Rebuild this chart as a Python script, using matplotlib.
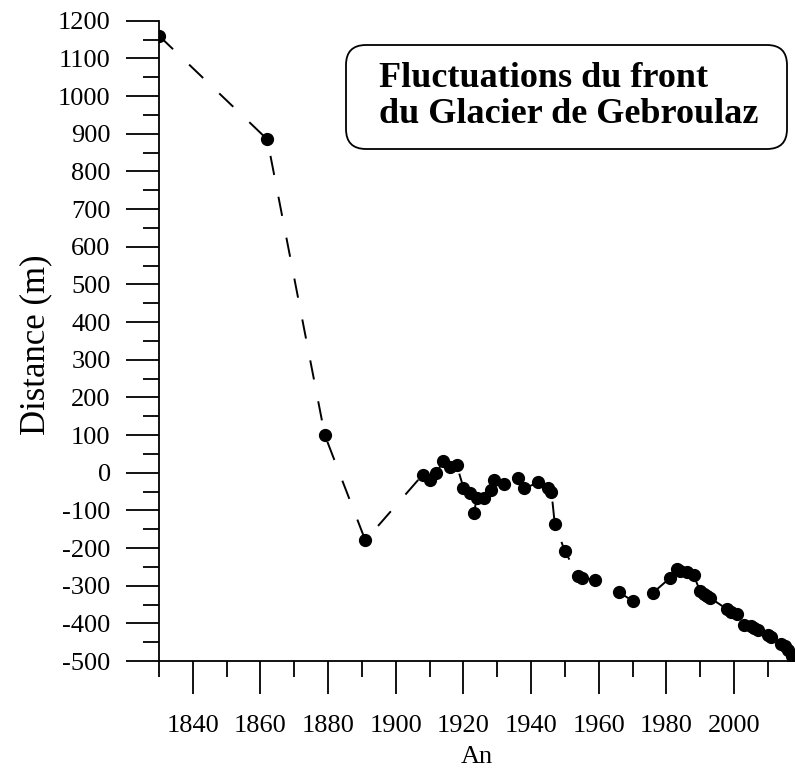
import matplotlib
matplotlib.use("Agg")
import matplotlib.pyplot as plt
from matplotlib.patches import FancyBboxPatch
from matplotlib.transforms import IdentityTransform
from matplotlib.ticker import MultipleLocator

# front position of the glacier (m) per year
years = [1830, 1862, 1879, 1891, 1908, 1910, 1912, 1914, 1916, 1918,
         1920, 1922, 1923, 1924, 1926, 1928, 1929, 1932, 1936, 1938,
         1942, 1945, 1946, 1947, 1950, 1954, 1955, 1959, 1966, 1970,
         1976, 1981, 1983, 1984, 1986, 1988, 1990, 1991, 1992, 1993,
         1998, 1999, 2001, 2003, 2005, 2006, 2007, 2010, 2011, 2014,
         2015, 2016, 2017]
distance = [1160, 885, 100, -180, -5, -20, 0, 30, 15, 20,
            -40, -55, -108, -68, -66, -45, -20, -31, -13, -42,
            -26, -42, -50, -137, -209, -275, -280, -284, -318, -340,
            -319, -280, -255, -261, -265, -272, -315, -322, -328, -333,
            -363, -370, -376, -405, -408, -412, -417, -432, -436, -454,
            -460, -470, -488]

title_lines = "Fluctuations du front\ndu Glacier de Gebroulaz"

plt.rcParams['font.family'] = ['Liberation Serif', 'DejaVu Serif']
plt.rcParams['lines.scale_dashes'] = False
plt.rcParams['axes.unicode_minus'] = False

fig = plt.figure(figsize=(7.95, 7.74), dpi=100)
ax = fig.add_axes([159 / 795, 113 / 774, 636 / 795, 640.3 / 774])

ax.plot(years, distance, color='black', lw=1.4, linestyle=(0, (14, 16)),
        marker='o', markersize=8.5, markerfacecolor='black',
        markeredgecolor='black')

ax.set_xlim(1830, 2018)
ax.set_ylim(-500, 1200)
ax.xaxis.set_major_locator(MultipleLocator(20))
ax.xaxis.set_minor_locator(MultipleLocator(10))
ax.yaxis.set_major_locator(MultipleLocator(100))
ax.yaxis.set_minor_locator(MultipleLocator(50))

xt = [t for t in range(1840, 2001, 20)]
ax.set_xticks(xt)
ax.set_xticklabels([str(t) for t in xt])

for s in ['top', 'right']:
    ax.spines[s].set_visible(False)
for s in ['left', 'bottom']:
    ax.spines[s].set_linewidth(1.3)

ax.tick_params(which='major', direction='out', length=23.8, width=1.3,
               labelsize=19, pad=11)
ax.tick_params(axis='x', which='major', pad=15)
ax.tick_params(which='minor', direction='out', length=11.5, width=1.3)

ax.set_xlabel("An", fontsize=19)
ax.set_ylabel("Distance (m)", fontsize=25)
ax.xaxis.set_label_coords(0.5, -0.132)
ax.yaxis.set_label_coords(-0.168, 0.4935)

# title box in pixel coordinates
box = FancyBboxPatch((346, 774 - 149), 441, 104,
                     boxstyle="round,pad=0,rounding_size=20",
                     transform=IdentityTransform(), facecolor='white',
                     edgecolor='black', lw=1.3, zorder=5)
fig.patches.append(box)
fig.text(379 / 795, 1 - 62 / 774, title_lines, fontsize=26,
         fontweight='bold', ha='left', va='top', linespacing=1.12,
         zorder=6)

fig.savefig("out.png", dpi=100)
